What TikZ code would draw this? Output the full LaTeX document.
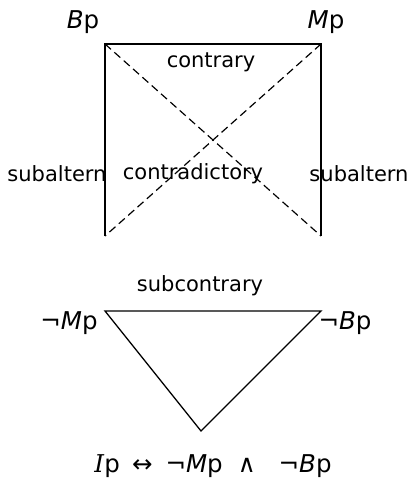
\documentclass[tikz,border=0pt]{standalone}
\usepackage{fontspec}
\setmainfont{DejaVu Sans}
\newfontfamily\serifit{DejaVu Serif}
\usetikzlibrary{positioning}

\begin{document}
\begin{tikzpicture}[x=1pt,y=-1pt,
      lbl/.style={inner sep=0pt,font=\fontsize{21}{25}\selectfont},
      vert/.style={inner sep=0pt,font=\fontsize{24.5}{29}\selectfont},
      side/.style={draw=black,line width=1.6pt},
      diag/.style={draw=black,line width=1.2pt,dash pattern=on 8pt off 4.5pt}
    ]
      \useasboundingbox (0,0) rectangle (409,485);
      % square of opposition
      \coordinate (bp) at (105,44);
      \coordinate (mp) at (321,44);
      \coordinate (bl) at (105,236);
      \coordinate (br) at (321,236);
      \node[vert] (bplbl) at (83,22) {\textit{B}p};
      \node[vert] (mplbl) at (326,22) {\textit{M}p};
      \node[lbl] (contrary) at (211,62) {contrary};
      \node[lbl] (subl) at (57,174) {subaltern};
      \node[lbl] (contra) at (193,174) {contradictory};
      \node[lbl] (subr) at (359,174) {subaltern};

      \draw[side] (bl) -- (bp) -- (mp) -- (br);
      \draw[diag] (bp) -- (br);
      \draw[diag] (mp) -- (bl);

      % triangle
      \coordinate (nmp) at (105,311);
      \coordinate (nbp) at (321,311);
      \coordinate (ip) at (201,431);
      \node[lbl] (subc) at (200,286) {subcontrary};
      \node[vert] (nmplbl) at (69,323) {¬\textit{M}p};
      \node[vert] (nbplbl) at (345,323) {¬\textit{B}p};
      \node[vert] (iff) at (213,466) {{\serifit\textit{I}}p\hspace{12pt}↔\hspace{13pt}¬\textit{M}p\hspace{15pt}∧\hspace{23pt}¬\textit{B}p};

      \draw[side,line width=1.3pt] (nmp) -- (nbp) -- (ip) -- cycle;
    \end{tikzpicture}
\end{document}
